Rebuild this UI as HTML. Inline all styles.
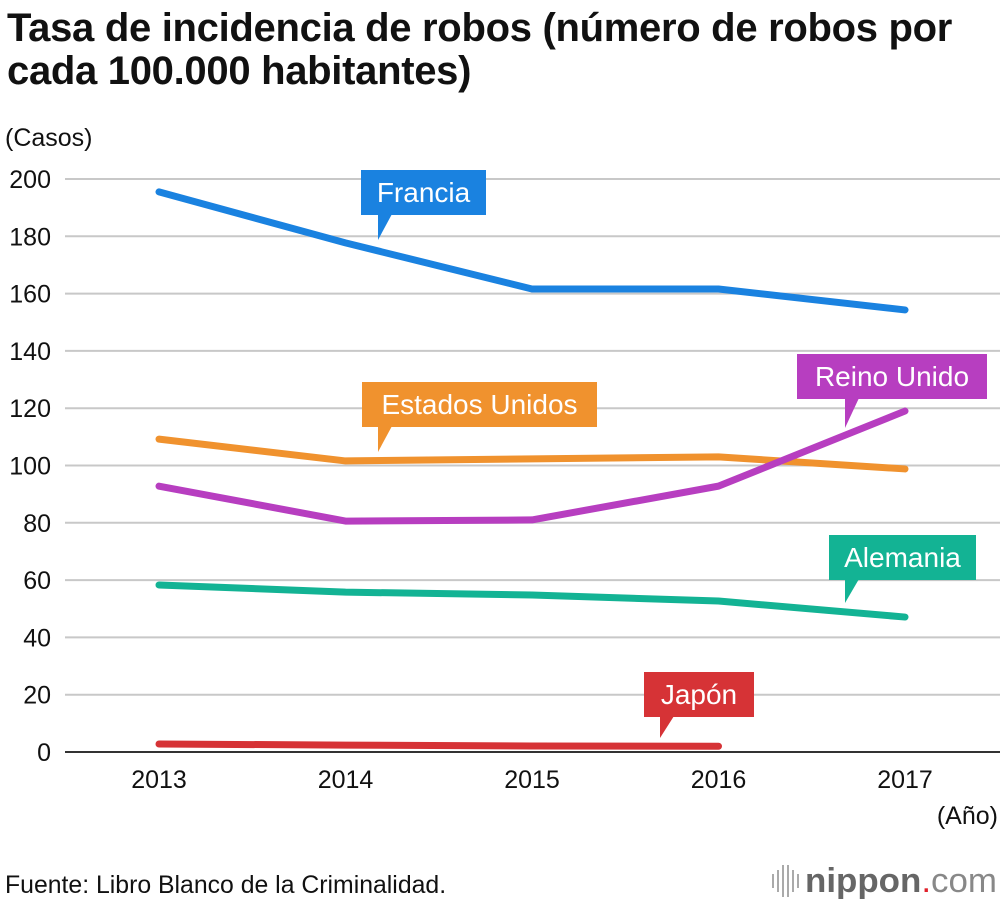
<!DOCTYPE html>
<html><head><meta charset="utf-8"><style>
body{margin:0;background:#fff;font-family:"Liberation Sans",sans-serif;}
#wrap{position:relative;width:1000px;height:902px;overflow:hidden;}
h1{position:absolute;left:7px;top:7px;margin:0;font-size:40px;line-height:43px;font-weight:bold;color:#111;letter-spacing:-0.3px;}
</style></head><body>
<div id="wrap">
<h1>Tasa de incidencia de robos (número de robos por<br>cada 100.000 habitantes)</h1>
<svg id="svg" width="1000" height="902" style="position:absolute;left:0;top:0"></svg>
</div>
<script>
const years=["2013","2014","2015","2016","2017"];
const yTicks=[0,20,40,60,80,100,120,140,160,180,200];
const francia=[195.5,177.7,161.6,161.6,154.3];
const eeuu=[109.2,101.6,102.3,103,98.8];
const reino=[92.8,80.6,81,92.8,119];
const alemania=[58.3,55.8,54.8,52.7,47.1];
const japon=[2.8,2.4,2.1,2.0];
const NS="http://www.w3.org/2000/svg";
const svg=document.getElementById('svg');
function x(i){return 159+i*186.5;}
function y(v){return 752-v*2.865;}
function el(t,a,p){const e=document.createElementNS(NS,t);for(const k in a)e.setAttribute(k,a[k]);(p||svg).appendChild(e);return e;}
function txt(s,a){const e=el('text',a);e.textContent=s;return e;}
yTicks.forEach(v=>{
 const g=el('line',{x1:65,x2:1000,y1:y(v),y2:y(v),stroke:v===0?'#333':'#c8c8c8','stroke-width':2});
 
 
 const t=txt(String(v),{x:51,y:y(v)+9,'text-anchor':'end','font-size':25,fill:'#111'});
 
 
});
years.forEach((yr,i)=>{
 const t=txt(yr,{x:x(i),y:788,'text-anchor':'middle','font-size':25,fill:'#111'});
 
 
});
let t=txt('(Casos)',{x:5,y:146,'font-size':25,fill:'#111'});


t=txt('(Año)',{x:998,y:824,'text-anchor':'end','font-size':25,fill:'#111'});


t=txt('Fuente: Libro Blanco de la Criminalidad.',{x:5,y:893,'font-size':24.8,fill:'#111'});


const logo=el('text',{x:805,y:892,'font-size':34,fill:'#666',textLength:192,lengthAdjust:'spacingAndGlyphs'});


logo.innerHTML='<tspan font-weight="bold">nippon</tspan><tspan fill="#e0202a">.</tspan><tspan fill="#888">com</tspan>';
[773,778,783,788,793,798].forEach((bx,i)=>{el('line',{x1:bx,x2:bx,y1:[874,870,865,865,870,874][i],y2:[888,892,897,897,892,888][i],stroke:'#aaa','stroke-width':2});});
const series=[
 {name:'Francia',d:francia,c:'#1a82e0',lx:361,ly:170,lw:125,tip:[378,240]},
 {name:'Estados Unidos',d:eeuu,c:'#f0922e',lx:362,ly:382,lw:235,tip:[378,452]},
 {name:'Reino Unido',d:reino,c:'#b73ec0',lx:797,ly:354,lw:190,tip:[845,428]},
 {name:'Alemania',d:alemania,c:'#13b394',lx:829,ly:535,lw:147,tip:[845,603]},
 {name:'Japón',d:japon,c:'#d63336',lx:644,ly:672,lw:110,tip:[660,738]}
];
series.forEach(s=>{
 const p=el('polyline',{points:s.d.map((v,i)=>x(i)+','+y(v)).join(' '),fill:'none',stroke:s.c,'stroke-width':7,'stroke-linecap':'round','stroke-linejoin':'round'});
 
 
 const g=el('g',{});
 
 
 el('rect',{x:s.lx,y:s.ly,width:s.lw,height:45,fill:s.c},g);
 el('polygon',{points:`${s.tip[0]},${s.ly+44} ${s.tip[0]+14},${s.ly+44} ${s.tip[0]},${s.tip[1]}`,fill:s.c},g);
 const tt=el('text',{x:s.lx+s.lw/2,y:s.ly+32,'text-anchor':'middle','font-size':28,fill:'#fff'},g);
 tt.textContent=s.name;
});
</script>
</body></html>
